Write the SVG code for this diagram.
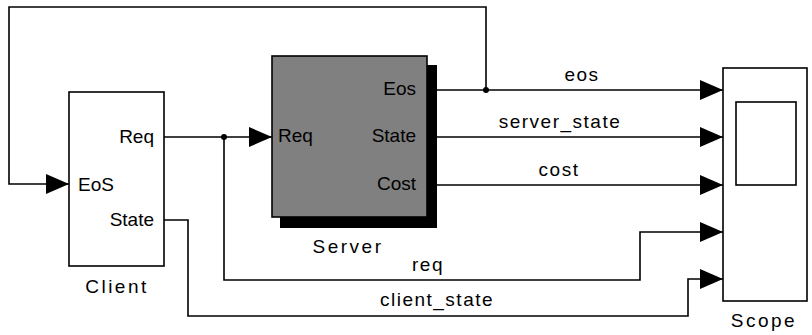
<svg xmlns="http://www.w3.org/2000/svg" width="812" height="335" viewBox="0 0 812 335">
  <style>
    .blk { fill: #ffffff; stroke: #000000; stroke-width: 1.6; }
    .srv { fill: #808080; stroke: #000000; stroke-width: 1.6; }
    .wire { fill: none; stroke: #000000; stroke-width: 1.6; }
    .port { font-family: "Liberation Sans", Arial, sans-serif; font-size: 19px; fill: #000000; }
    .name { font-family: "Liberation Sans", Arial, sans-serif; font-size: 19px; fill: #000000; letter-spacing: 2.5px; }
    .sig { font-family: "Liberation Sans", Arial, sans-serif; font-size: 19px; fill: #000000; letter-spacing: 1.5px; }
  </style>
  <defs>
    <marker id="arr" markerUnits="userSpaceOnUse" markerWidth="23" markerHeight="20" refX="23" refY="10" orient="auto">
      <path d="M0,0 L23,10 L0,20 Z" fill="#000000"/>
    </marker>
  </defs>
  <rect width="812" height="335" fill="#ffffff"/>

  <!-- signal lines -->
  <g id="connectors">
    <path class="wire" d="M437,90 H723" marker-end="url(#arr)"/>
    <path class="wire" d="M486,90 V7 H9 V184 H69" marker-end="url(#arr)"/>
    <path class="wire" d="M164,137 H272" marker-end="url(#arr)"/>
    <path class="wire" d="M224,137 V280 H640 V232 H723" marker-end="url(#arr)"/>
    <path class="wire" d="M437,137 H723" marker-end="url(#arr)"/>
    <path class="wire" d="M437,185 H723" marker-end="url(#arr)"/>
    <path class="wire" d="M164,220 H188 V316 H688 V279 H723" marker-end="url(#arr)"/>
    <circle cx="486" cy="90" r="3" fill="#000000"/>
    <circle cx="224" cy="137" r="3" fill="#000000"/>
    <text class="sig" x="582" y="81" text-anchor="middle">eos</text>
    <text class="sig" x="560" y="128" text-anchor="middle">server_state</text>
    <text class="sig" x="559" y="176" text-anchor="middle">cost</text>
    <text class="sig" x="428" y="271" text-anchor="middle">req</text>
    <text class="sig" x="437" y="306" text-anchor="middle">client_state</text>
  </g>

  <g id="client">
    <rect class="blk" x="69" y="92" width="95" height="174"/>
    <text class="port" x="154" y="143" text-anchor="end">Req</text>
    <text class="port" x="78" y="191">EoS</text>
    <text class="port" x="154" y="226" text-anchor="end">State</text>
    <text class="name" x="117" y="293" text-anchor="middle">Client</text>
  </g>

  <g id="server">
    <rect x="280" y="65" width="157" height="163" fill="#000000"/>
    <rect class="srv" x="272" y="56" width="155" height="161"/>
    <text class="port" x="278" y="142">Req</text>
    <text class="port" x="416" y="95" text-anchor="end">Eos</text>
    <text class="port" x="416" y="142" text-anchor="end">State</text>
    <text class="port" x="416" y="190" text-anchor="end">Cost</text>
    <text class="name" x="348" y="253" text-anchor="middle">Server</text>
  </g>

  <g id="scope">
    <rect class="blk" x="723" y="68" width="84" height="233"/>
    <rect class="blk" x="736" y="102" width="60" height="83"/>
    <text class="name" x="764" y="327" text-anchor="middle">Scope</text>
  </g>
</svg>
